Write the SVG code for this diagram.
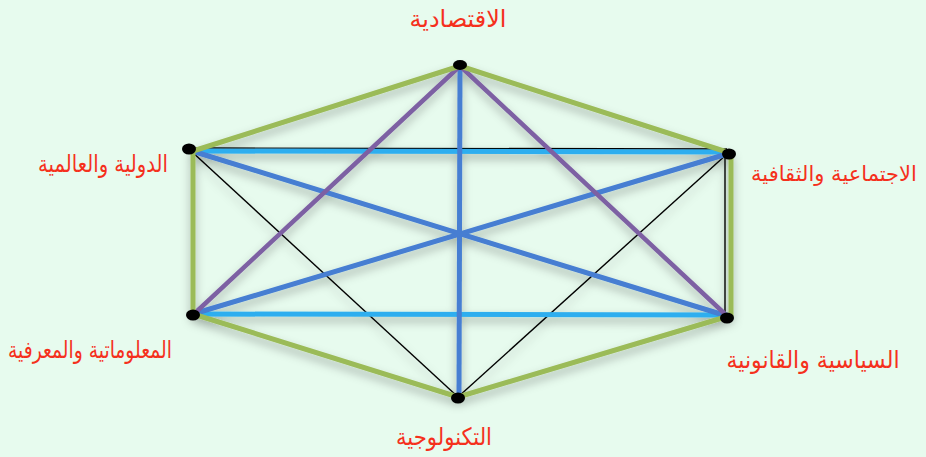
<svg xmlns="http://www.w3.org/2000/svg" width="926" height="457" viewBox="0 0 926 457">
<defs>
<filter id="sh" x="-10%" y="-10%" width="120%" height="130%">
<feDropShadow dx="0" dy="5" stdDeviation="5" flood-color="#000" flood-opacity="0.3"/>
</filter>
</defs>
<style>
.bg{fill:#E7FBEE}
.g{stroke:#9BBB59;stroke-width:5;fill:none;stroke-linecap:round}
.p{stroke:#7D60A3;stroke-width:4.5;fill:none}
.b{stroke:#467ED2;stroke-width:5;fill:none}
.lb{stroke:#2DAEEF;stroke-width:5;fill:none}
.k{stroke:#000;stroke-width:1.4;fill:none}
.dot{fill:#000}
.lbl{font-family:"DejaVu Sans",sans-serif;font-size:24px;fill:#F5301C;text-anchor:middle}
</style>
<rect class="bg" width="926" height="457"/>
<g id="connectors" filter="url(#sh)">
<line class="k" x1="190" y1="148" x2="727" y2="149"/>
<line class="k" x1="190" y1="150" x2="458" y2="397"/>
<line class="k" x1="727" y1="154" x2="458" y2="397"/>
<line class="k" x1="725" y1="154" x2="725" y2="316"/>
<line class="lb" x1="192" y1="151" x2="727" y2="152"/>
<line class="lb" x1="193" y1="314" x2="727" y2="315"/>
<line class="b" x1="192" y1="151" x2="727" y2="316"/>
<line class="b" x1="727" y1="154" x2="193" y2="314"/>
<line class="b" x1="460" y1="66" x2="459" y2="397"/>
<line class="p" x1="460" y1="66" x2="195" y2="313"/>
<line class="p" x1="460" y1="66" x2="725" y2="314"/>
<line class="g" x1="460" y1="66" x2="193" y2="151"/>
<line class="g" x1="460" y1="66" x2="727" y2="152"/>
<line class="g" x1="193" y1="151" x2="193" y2="314"/>
<line class="g" x1="731" y1="154" x2="731" y2="316"/>
<line class="g" x1="193" y1="314" x2="458" y2="397"/>
<line class="g" x1="729" y1="316" x2="458" y2="397"/>
</g>
<g id="n-top"><ellipse class="dot" cx="460" cy="65" rx="7" ry="5"/><text class="lbl" x="458" y="27" textLength="97" lengthAdjust="spacingAndGlyphs">الاقتصادية</text></g>
<g id="n-ul"><ellipse class="dot" cx="189" cy="149" rx="7" ry="5.5"/><text class="lbl" x="103" y="172" textLength="130" lengthAdjust="spacingAndGlyphs">الدولية والعالمية</text></g>
<g id="n-ur"><ellipse class="dot" cx="729" cy="154" rx="7" ry="5.5"/><text class="lbl" x="834" y="181" style="font-size:21px">الاجتماعية والثقافية</text></g>
<g id="n-ll"><ellipse class="dot" cx="193" cy="315" rx="7" ry="5.5"/><text class="lbl" x="90" y="358" textLength="164" lengthAdjust="spacingAndGlyphs">المعلوماتية والمعرفية</text></g>
<g id="n-lr"><ellipse class="dot" cx="727" cy="318" rx="7" ry="5.5"/><text class="lbl" x="813" y="368" textLength="173" lengthAdjust="spacingAndGlyphs">السياسية والقانونية</text></g>
<g id="n-bot"><ellipse class="dot" cx="458" cy="398" rx="7" ry="5.5"/><text class="lbl" x="444" y="445" textLength="96" lengthAdjust="spacingAndGlyphs">التكنولوجية</text></g>
</svg>
